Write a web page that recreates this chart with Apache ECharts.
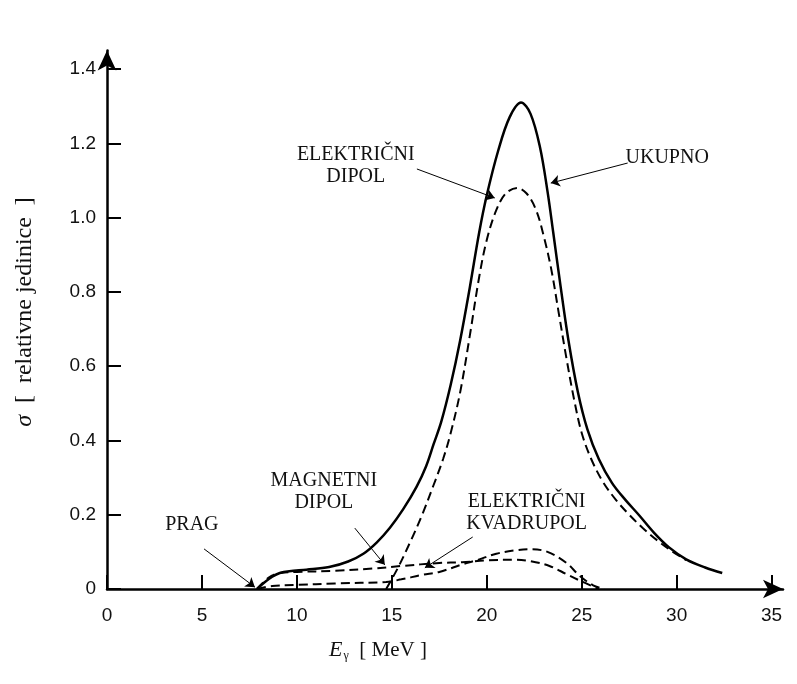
<!DOCTYPE html>
<html>
<head>
<meta charset="utf-8">
<script src="https://cdn.jsdelivr.net/npm/echarts@6/dist/echarts.min.js"></script>
<style>
  html, body { margin: 0; padding: 0; background: #fff; }
  #udarni { width: 797px; height: 684px; }
</style>
</head>
<body>
<div id="udarni"></div>
<script>
// presjek [relativne jedinice] u ovisnosti o E_gamma [MeV]
var ukupno = [[7.9,0],[8.3,0.018],[8.7,0.033],[9.1,0.043],[9.6,0.048],[10.5,0.052],[11.7,0.059],
  [12.7,0.074],[13.5,0.095],[14.2,0.125],[14.9,0.165],[15.6,0.215],[16.3,0.275],[16.8,0.33],
  [17.2,0.39],[17.6,0.45],[18.1,0.55],[18.6,0.67],[19.1,0.81],[19.6,0.96],[20.0,1.06],[20.6,1.18],
  [21.2,1.27],[21.8,1.31],[22.3,1.28],[22.8,1.19],[23.2,1.07],[23.5,0.96],[23.9,0.81],[24.3,0.67],
  [24.8,0.53],[25.3,0.43],[25.9,0.35],[26.6,0.285],[27.3,0.24],[28.0,0.2],[28.8,0.152],[29.6,0.112],
  [30.5,0.08],[31.5,0.058],[32.4,0.043]];
var elDipol = [[14.7,0],[15.3,0.055],[16.0,0.13],[16.6,0.2],[17.2,0.28],[17.7,0.35],[18.1,0.42],
  [18.6,0.53],[19.1,0.68],[19.6,0.84],[20.0,0.94],[20.5,1.02],[21.0,1.065],[21.6,1.08],[22.1,1.065],
  [22.6,1.02],[23.0,0.95],[23.4,0.86],[23.8,0.74],[24.2,0.62],[24.6,0.51],[25.0,0.42],[25.5,0.35],
  [26.1,0.29],[26.8,0.24],[27.5,0.2],[28.2,0.165],[29.0,0.13],[29.8,0.1],[30.5,0.078]];
var magDipol = [[7.9,0],[8.5,0.03],[9.1,0.043],[10,0.046],[12,0.049],[14,0.055],[15.5,0.062],
  [17.5,0.07],[18.7,0.072],[20,0.077],[21.5,0.079],[22.3,0.075],[23.3,0.062],[24.2,0.04],
  [25.05,0.019],[25.9,0]];
var elKvadrupol = [[7.9,0],[8.7,0.008],[10,0.011],[12,0.015],[14.7,0.019],[15.5,0.026],[16.6,0.038],
  [17.5,0.046],[18.7,0.066],[19.5,0.078],[20.5,0.095],[21.5,0.104],[22.3,0.107],[23.2,0.1],
  [24.2,0.07],[24.9,0.035],[25.6,0.01],[26.2,0]];

var xTicks = [0, 5, 10, 15, 20, 25, 30, 35];
var yTicks = [0, 0.2, 0.4, 0.6, 0.8, 1.0, 1.2, 1.4];

// natpisi i strelice (u koordinatama podataka)
var natpisi = [
  { tekst: 'PRAG', x: 4.47, y: 0.172 },
  { tekst: 'MAGNETNI\nDIPOL', x: 11.42, y: 0.262 },
  { tekst: 'ELEKTRIČNI\nKVADRUPOL', x: 22.1, y: 0.206 },
  { tekst: 'ELEKTRIČNI\nDIPOL', x: 13.1, y: 1.14 },
  { tekst: 'UKUPNO', x: 29.5, y: 1.16 }
];
var strelice = [
  [[5.11, 0.108], [7.79, 0.005]],
  [[13.05, 0.164], [14.63, 0.065]],
  [[19.26, 0.14], [16.74, 0.057]],
  [[16.32, 1.131], [20.42, 1.053]],
  [[27.42, 1.147], [23.37, 1.093]]
];

var chart = echarts.init(document.getElementById('udarni'));

var crna = '#000';
var serif = '"Liberation Serif", "DejaVu Serif", serif';
var crtkano = { color: crna, width: 2, type: [9, 5] };

chart.setOption({
  animation: false,
  backgroundColor: '#fff',
  grid: { left: 107, right: 14, top: 50.5, bottom: 95 },
  xAxis: {
    type: 'value', min: 0, max: 35.6,
    axisLine: { symbol: ['none', 'arrow'], symbolSize: [14, 20], lineStyle: { color: crna, width: 2.5 } },
    axisTick: { inside: true, length: 14, customValues: xTicks, lineStyle: { color: crna, width: 2 } },
    axisLabel: { customValues: xTicks, margin: 17, fontSize: 19, fontFamily: '"Liberation Sans", Arial', color: '#111' },
    splitLine: { show: false }
  },
  yAxis: {
    type: 'value', min: 0, max: 1.45,
    axisLine: { show: true, symbol: ['none', 'arrow'], symbolSize: [14, 20], lineStyle: { color: crna, width: 2.5 } },
    axisTick: { show: true, inside: true, length: 14, customValues: yTicks, lineStyle: { color: crna, width: 2 } },
    axisLabel: {
      customValues: yTicks, margin: 11, fontSize: 19, fontFamily: '"Liberation Sans", Arial', color: '#111',
      formatter: function (v) { return v === 0 ? '0' : v.toFixed(1); }
    },
    splitLine: { show: false }
  },
  series: [
    {
      name: 'UKUPNO', type: 'line', data: ukupno, smooth: 0.35, showSymbol: false,
      lineStyle: { color: crna, width: 2.5 },
      markLine: {
        silent: true, symbol: ['none', 'arrow'], symbolSize: 9,
        label: { show: false },
        lineStyle: { color: crna, width: 1, type: 'solid' },
        data: strelice.map(function (s) { return [{ coord: s[0] }, { coord: s[1] }]; })
      }
    },
    { name: 'ELEKTRIČNI DIPOL', type: 'line', data: elDipol, smooth: 0.35, showSymbol: false, lineStyle: crtkano },
    { name: 'MAGNETNI DIPOL', type: 'line', data: magDipol, smooth: 0.35, showSymbol: false, lineStyle: crtkano },
    { name: 'ELEKTRIČNI KVADRUPOL', type: 'line', data: elKvadrupol, smooth: 0.35, showSymbol: false, lineStyle: crtkano }
  ]
});

var grafika = natpisi.map(function (n) {
  var p = chart.convertToPixel({ gridIndex: 0 }, [n.x, n.y]);
  return {
    type: 'text', x: p[0], y: p[1], silent: true,
    style: {
      text: n.tekst, fill: '#111', fontSize: 20, fontFamily: serif,
      lineHeight: 22, align: 'center', verticalAlign: 'middle'
    }
  };
});

// naslovi osi
grafika.push({
  type: 'text', x: 25, y: 312, rotation: Math.PI / 2, silent: true,
  style: {
    text: '{s|σ}  [  relativne jedinice  ]', fill: '#111', fontSize: 24, fontFamily: serif,
    align: 'center', verticalAlign: 'middle',
    rich: { s: { fontStyle: 'italic', fontSize: 24, fontFamily: serif } }
  }
});
grafika.push({
  type: 'text', x: 378, y: 650, silent: true,
  style: {
    text: '{e|E}{g|γ}{t|  [ MeV ]}', fill: '#111', fontSize: 21, fontFamily: serif,
    align: 'center', verticalAlign: 'middle',
    rich: {
      e: { fontStyle: 'italic', fontSize: 22, fontFamily: serif, lineHeight: 24 },
      g: { fontSize: 12, fontFamily: serif, lineHeight: 14, padding: [12, 0, 0, 1] },
      t: { fontSize: 21, fontFamily: serif, lineHeight: 24 }
    }
  }
});

chart.setOption({ graphic: grafika });
</script>
</body>
</html>
